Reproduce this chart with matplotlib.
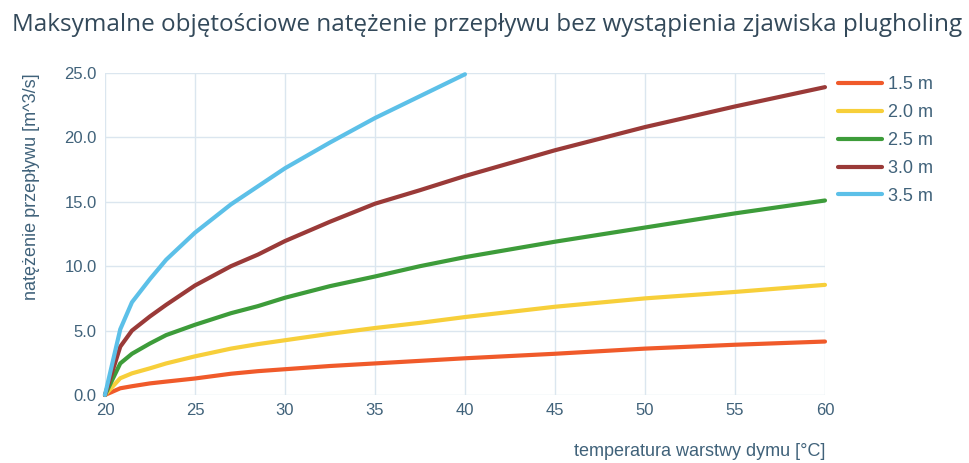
import matplotlib.pyplot as plt

# temperatura warstwy dymu [C]
temp = [20, 20.85, 21.5, 22.5, 23.4, 25, 27, 28.5, 30, 32.5, 35, 37.5, 40, 45, 50, 55, 60]

# natezenie przeplywu [m^3/s]
q_15 = [0.0, 0.52, 0.68, 0.9, 1.04, 1.28, 1.65, 1.85, 2.0, 2.25, 2.45, 2.65, 2.85, 3.2, 3.6, 3.9, 4.15]
q_20 = [0.0, 1.3, 1.68, 2.07, 2.45, 3.0, 3.6, 3.95, 4.25, 4.75, 5.2, 5.6, 6.05, 6.85, 7.5, 8.0, 8.55]
q_25 = [0.0, 2.45, 3.2, 4.0, 4.65, 5.45, 6.35, 6.9, 7.55, 8.45, 9.2, 10.0, 10.7, 11.9, 13.0, 14.1, 15.1]
q_30 = [0.0, 3.75, 5.0, 6.1, 7.0, 8.5, 10.0, 10.9, 11.95, 13.45, 14.85, 15.9, 17.0, 19.0, 20.8, 22.4, 23.9]
q_35 = [0.0, 5.1, 7.2, 9.0, 10.5, 12.6, 14.8, 16.2, 17.6, 19.6, 21.5, 23.2, 24.9]
t_35 = temp[:len(q_35)]

labels = ["1.5 m", "2.0 m", "2.5 m", "3.0 m", "3.5 m"]
colors = ["#f05a2a", "#f7cf3a", "#3d9c3a", "#9a3a38", "#5cc0e8"]

txt_col = "#40627a"
txt_font = ["Liberation Sans", "DejaVu Sans"]

fig = plt.figure(figsize=(9.7, 4.63), dpi=100)
ax = fig.add_axes([0.1082, 0.1469, 0.7423, 0.6955])

series = [(temp, q_15), (temp, q_20), (temp, q_25), (temp, q_30), (t_35, q_35)]
for (t, q), lab, c in zip(series, labels, colors):
    ax.plot(t, q, color=c, lw=3.0, label=lab, solid_capstyle="round",
            solid_joinstyle="round", clip_on=False)

ax.set_xlim(20, 60)
ax.set_ylim(0, 25)
ax.set_xticks(range(20, 61, 5))
ax.set_yticks([0, 5, 10, 15, 20, 25])
ax.set_yticklabels([f"{v:.1f}" for v in [0, 5, 10, 15, 20, 25]])
ax.grid(True, color="#dbe6ef", lw=1.0)
for s in ax.spines.values():
    s.set_visible(False)
ax.tick_params(length=0, colors=txt_col, labelsize=12, pad=6)
for lbl in ax.get_xticklabels() + ax.get_yticklabels():
    lbl.set_family(txt_font)

ax.set_xlabel("temperatura warstwy dymu [°C]", loc="right", fontsize=13,
              color=txt_col, family=txt_font, va="top")
ax.xaxis.set_label_coords(1.0, -0.15)
ax.set_ylabel("natężenie przepływu [m^3/s]", loc="top", fontsize=13,
              color=txt_col, family=txt_font)
ax.yaxis.set_label_coords(-0.09, 1.0)

fig.suptitle("Maksymalne objętościowe natężenie przepływu bez wystąpienia zjawiska plugholing",
             x=0.012, y=0.972, ha="left", va="top", fontsize=17.5,
             family="Open Sans", color="#33495a")

ax.legend(loc="upper left", bbox_to_anchor=(0.995, 1.04), frameon=False,
          prop={"family": txt_font, "size": 13}, labelcolor=txt_col,
          handlelength=2.45, handletextpad=0.35, labelspacing=0.6)

fig.savefig("out.png", dpi=100)
